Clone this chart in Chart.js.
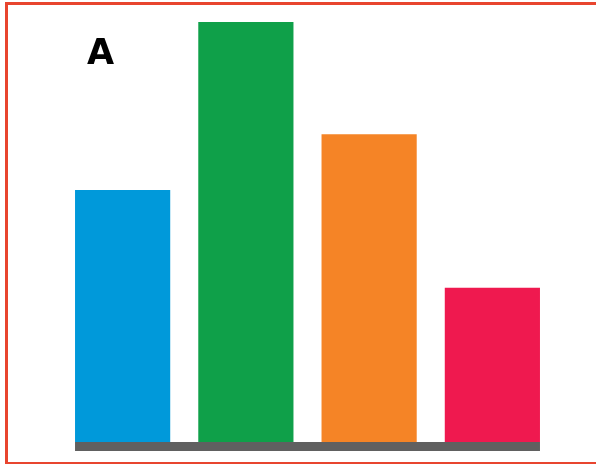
<!DOCTYPE html>
<html>
<head>
<meta charset="utf-8">
<script src="https://cdn.jsdelivr.net/npm/chart.js@4"></script>
<style>
  html, body { margin: 0; padding: 0; background: #fff; overflow: hidden; }
  #wrap { position: relative; width: 596px; height: 464px; overflow: hidden; }
  #frame {
    position: absolute; left: 5px; top: 2px; width: 700px; height: 457px;
    border-left: 3px solid #e8452f; border-top: 3px solid #e8452f;
    border-bottom: 3px solid #e8452f; pointer-events: none;
  }
  canvas { position: absolute; left: 0; top: 0; }
</style>
</head>
<body>
<div id="wrap">
  <canvas id="myChart" width="596" height="464"></canvas>
  <div id="frame"></div>
</div>
<script>
// chart values
const categories = ['1', '2', '3', '4'];
const values = [60, 100, 73.3, 36.7];
const barColors = ['#0099da', '#0fa049', '#f58426', '#ef194f'];
const panelLabel = 'A';

// grey base strip under the bars + the panel letter
const decorPlugin = {
  id: 'decor',
  afterDatasetsDraw(chart) {
    const ctx = chart.ctx;
    const bars = chart.getDatasetMeta(0).data;
    const first = bars[0], last = bars[bars.length - 1];
    const left = first.x - first.width / 2;
    const right = last.x + last.width / 2;
    const base = chart.scales.y.getPixelForValue(0);
    ctx.save();
    ctx.fillStyle = '#606060';
    ctx.fillRect(left, base, right - left, 9);
    ctx.fillStyle = '#000';
    ctx.font = 'bold 35px "DejaVu Sans"';
    ctx.textAlign = 'left';
    ctx.textBaseline = 'alphabetic';
    ctx.fillText(panelLabel, 87, 64);
    ctx.restore();
  }
};

const data = {
  labels: categories,
  datasets: [{
    data: values,
    backgroundColor: barColors,
    borderWidth: 0,
    categoryPercentage: 1,
    barPercentage: 95 / 123
  }]
};

const config = {
  type: 'bar',
  data: data,
  options: {
    responsive: false,
    animation: false,
    layout: { padding: { left: 61, right: 42, top: 22, bottom: 22 } },
    plugins: { legend: { display: false }, tooltip: { enabled: false } },
    scales: {
      x: { display: false },
      y: { display: false, min: 0, max: 100 }
    }
  },
  plugins: [decorPlugin]
};

const myChart = new Chart(document.getElementById('myChart'), config);
</script>
</body>
</html>
